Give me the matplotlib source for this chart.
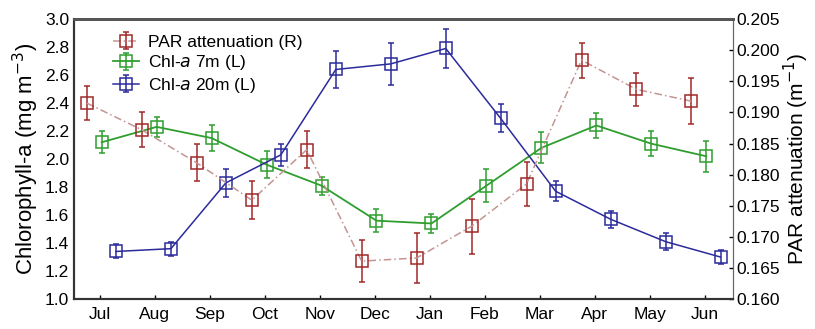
import numpy as np
import matplotlib
matplotlib.use("Agg")
import matplotlib.pyplot as plt

plt.rcParams['font.family'] = ['Liberation Sans', 'DejaVu Sans']

months = ["Jul", "Aug", "Sep", "Oct", "Nov", "Dec", "Jan", "Feb", "Mar", "Apr", "May", "Jun"]

chl7 = [2.12, 2.23, 2.15, 1.96, 1.81, 1.56, 1.54, 1.81, 2.08, 2.24, 2.11, 2.02]
chl7_err = [0.08, 0.07, 0.09, 0.095, 0.065, 0.08, 0.07, 0.12, 0.11, 0.09, 0.09, 0.11]

chl20 = [1.34, 1.36, 1.83, 2.03, 2.64, 2.68, 2.79, 2.29, 1.77, 1.57, 1.41, 1.30]
chl20_err = [0.05, 0.05, 0.10, 0.08, 0.13, 0.15, 0.14, 0.10, 0.07, 0.06, 0.06, 0.05]

par = [0.1915, 0.1872, 0.1819, 0.1759, 0.1840, 0.1661, 0.1666, 0.1717, 0.1785, 0.1984, 0.1937, 0.1918]
par_err = [0.0028, 0.0028, 0.0030, 0.0030, 0.0030, 0.0034, 0.0040, 0.0044, 0.0035, 0.0028, 0.0026, 0.0037]

x = np.arange(len(months))

fig = plt.figure(figsize=(8.15, 3.29), dpi=100)
ax = fig.add_axes([0.091, 0.091, 0.808, 0.851])
ax2 = ax.twinx()

green = "#2f9e2f"
blue = "#2b2b9c"
red_dark = "#a02828"
red_light = "#c49494"

h7 = ax.errorbar(x + 0.03, chl7, yerr=chl7_err, fmt='s-', color=green, mfc='none',
                 mec=green, ms=9, mew=1.1, lw=1.3, elinewidth=1.1, capsize=2)
h20 = ax.errorbar(x + 0.29, chl20, yerr=chl20_err, fmt='s-', color=blue, mfc='none',
                  mec=blue, ms=9, mew=1.1, lw=1.1, elinewidth=1.1, capsize=2)
hp = ax2.errorbar(x - 0.24, par, yerr=par_err, fmt='s', linestyle=(0, (5, 2, 1, 2)),
                  color=red_light, mfc='none', mec=red_dark, ecolor=red_dark, ms=9,
                  mew=1.1, lw=1.1, elinewidth=1.1, capsize=2)

ax.set_xlim(-0.47, 11.51)
ax.set_ylim(1.0, 3.0)
ax.set_yticks(np.arange(1.0, 3.01, 0.2))
ax.set_yticklabels([f"{v:.1f}" for v in np.arange(1.0, 3.01, 0.2)])
ax2.set_ylim(0.160, 0.205)
ax2.set_yticks(np.arange(0.160, 0.2051, 0.005))
ax2.set_yticklabels([f"{v:.3f}" for v in np.arange(0.160, 0.2051, 0.005)])
ax.set_xticks(x)
ax.set_xticklabels(months)

ax.tick_params(axis='both', direction='in', labelsize=12.5, length=3, width=1)
ax.tick_params(axis='x', pad=6)
ax2.tick_params(axis='y', direction='in', labelsize=12.5, length=3, width=1, pad=3)
ax.tick_params(axis='y', length=0)

for a in (ax, ax2):
    a.spines['top'].set_color('#555555')
    a.spines['top'].set_linewidth(2)
    a.spines['left'].set_color('#333333')
    a.spines['bottom'].set_color('#333333')
    a.spines['right'].set_color('#666666')
    a.spines['left'].set_linewidth(1.5)
    a.spines['bottom'].set_linewidth(1.5)

ax.set_ylabel("Chlorophyll-a (mg m$^{-3}$)", fontsize=16, labelpad=3)
ax2.set_ylabel("PAR attenuation (m$^{-1}$)", fontsize=15, rotation=90, labelpad=1)

leg = ax.legend([hp, h7, h20],
                ["PAR attenuation (R)", "Chl-$\\it{a}$ 7m (L)", "Chl-$\\it{a}$ 20m (L)"],
                loc='upper left', bbox_to_anchor=(0.035, 1.0), frameon=False,
                fontsize=12.5, handlelength=1.5, handletextpad=0.5, labelspacing=0.2)

fig.savefig("out.png", dpi=100)
